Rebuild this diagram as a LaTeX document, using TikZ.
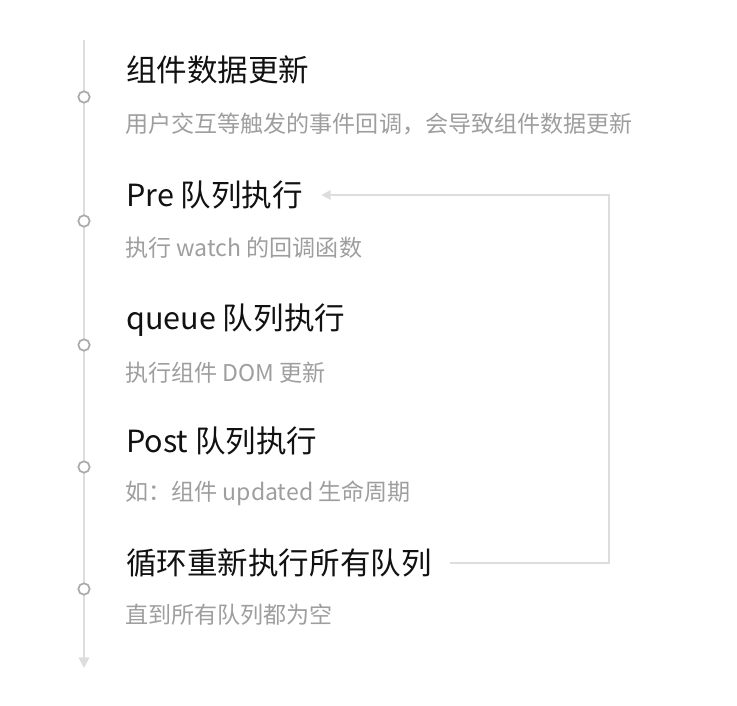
\documentclass[tikz,border=0pt]{standalone}
\usepackage{fontspec}
\setmainfont{Noto Sans CJK SC}
\usetikzlibrary{arrows.meta}
\definecolor{linegray}{HTML}{DDDDDD}
\definecolor{dotgray}{HTML}{AAAAAA}
\definecolor{subgray}{HTML}{9E9E9E}
\definecolor{titleblack}{HTML}{111111}
\begin{document}
\begin{tikzpicture}[x=0.75pt,y=-0.75pt,
  titletext/.style={anchor=west,inner sep=0pt,text=titleblack,font=\fontsize{22.9pt}{26pt}\selectfont},
  subtext/.style={anchor=west,inner sep=0pt,text=subgray,font=\fontsize{17.3pt}{20pt}\selectfont},
  dot/.style={circle,draw=dotgray,line width=1.3pt,fill=white,minimum size=8.5pt,inner sep=0pt},
  axisline/.style={draw=linegray,line width=1.5pt,-{Triangle[width=8pt,length=8pt]}},
  loopline/.style={draw=linegray,line width=1.5pt,-{Triangle[width=7pt,length=7pt]}}]
\useasboundingbox (0,0) rectangle (737,705);
\coordinate (top) at (84,40);
\coordinate (bottom) at (84,668);
\draw[axisline] (top) -- (bottom);
\node[dot] (d1) at (84,97) {};
\node[dot] (d2) at (84,221) {};
\node[dot] (d3) at (84,345) {};
\node[dot] (d4) at (84,467) {};
\node[dot] (d5) at (84,589) {};
\node[titletext] (t1) at (126,70) {组件数据更新};
\node[subtext] (s1) at (125,124) {用户交互等触发的事件回调，会导致组件数据更新};
\node[titletext] (t2) at (126,195) {Pre 队列执行};
\node[subtext] (s2) at (125,248) {执行 watch 的回调函数};
\node[titletext] (t3) at (126,320) {queue 队列执行};
\node[subtext] (s3) at (125,373) {执行组件 DOM 更新};
\node[titletext] (t4) at (126,441) {Post 队列执行};
\node[subtext] (s4) at (125,493) {如：组件 updated 生命周期};
\node[titletext] (t5) at (126,563) {循环重新执行所有队列};
\node[subtext] (s5) at (125,615) {直到所有队列都为空};
\coordinate (turnx) at (609,0);
\draw[loopline] ([xshift=13.5pt]t5.east) -- (t5.east -| turnx) |- ([xshift=13.5pt]t2.east);
\end{tikzpicture}
\end{document}
